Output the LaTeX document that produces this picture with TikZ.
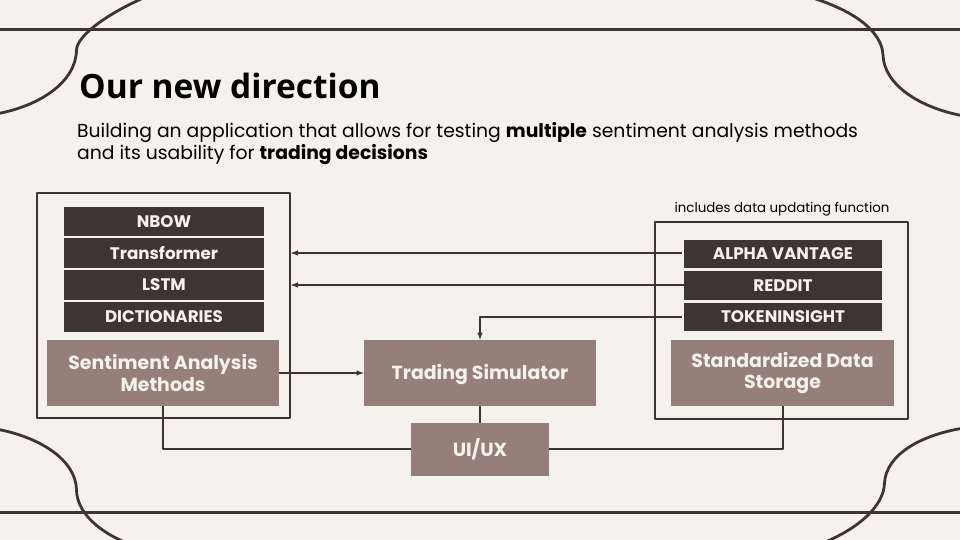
\documentclass[tikz,border=0pt]{standalone}
\usepackage{fontspec}
\setmainfont{Poppins}
\newfontfamily\titlefont{Open Sans}
\definecolor{paper}{HTML}{F5F1EC}
\definecolor{umber}{HTML}{3E3431}
\definecolor{taupe}{HTML}{957F78}
\tikzset{
  listbox/.style={fill=umber,text=paper,rectangle,inner sep=0pt,font=\fontsize{16.8}{20}\selectfont\bfseries},
  blockbox/.style={fill=taupe,text=paper,rectangle,inner sep=0pt,align=center,font=\fontsize{19}{22}\selectfont\bfseries},
  groupbox/.style={draw=umber,line width=1.5bp,rectangle,inner sep=0pt},
  wire/.style={draw=umber,line width=1.5bp},
  ornament/.style={draw=umber,line width=2.8bp,line cap=round},
}
\begin{document}
\begin{tikzpicture}[>=latex,line join=bevel,]
    %%
    \useasboundingbox (0bp,0bp) rectangle (960bp,540bp);
    \fill [paper] (0bp,0bp) rectangle (960bp,540bp);
    \begin{scope}
    \clip (0bp,0bp) rectangle (960bp,540bp);
    \draw [ornament] (-8bp,510.5bp) -- (968bp,510.5bp);
    \draw [ornament] (-8bp,27.5bp) -- (968bp,27.5bp);
    \draw [ornament] (-4bp,426bp) ..controls (40bp,434bp) and (76bp,458bp)  .. (76.5bp,490bp) ..controls (77bp,505bp) and (110bp,528bp)  .. (148bp,544bp);
    \draw [ornament] (964bp,424bp) ..controls (920bp,432bp) and (884bp,455bp)  .. (883.0bp,485bp) ..controls (882bp,508bp) and (855bp,530bp)  .. (806bp,544bp);
    \draw [ornament] (-4bp,111bp) ..controls (40bp,103bp) and (76bp,80bp)  .. (76.5bp,50bp) ..controls (77bp,28bp) and (98bp,6bp)  .. (140bp,-8bp);
    \draw [ornament] (964bp,112bp) ..controls (920bp,105bp) and (886bp,85bp)  .. (884.5bp,57bp) ..controls (884bp,36bp) and (862bp,12bp)  .. (818bp,-5bp);
    \end{scope}
    %%
    \node (title) at (79.0bp,454.0bp) [anchor=west,font=\titlefont\fontsize{33.6}{38}\selectfont\bfseries,text=black,inner sep=0pt] {Our new direction};
    \node (lead) at (77.0bp,396.5bp) [anchor=west,align=left,inner sep=0pt,text=black,font=\fontsize{18.85}{22}\selectfont] {Building an application that allows for testing \textbf{multiple} sentiment analysis methods\\and its usability for \textbf{trading decisions}};
    \node (note) at (782.0bp,331.0bp) [text=black,inner sep=0pt,font=\fontsize{13.4}{16}\selectfont] {includes data updating function};
    %%
    \node (methods) at (163.5bp,234.5bp) [groupbox,minimum width=253bp,minimum height=225bp] {};
    \node (sources) at (781.5bp,219.5bp) [groupbox,minimum width=253bp,minimum height=197bp] {};
    \node (nbow) at (164.0bp,318.5bp) [listbox,minimum width=200bp,minimum height=29bp] {NBOW};
    \node (transformer) at (164.0bp,287.0bp) [listbox,minimum width=200bp,minimum height=30bp] {Transformer};
    \node (lstm) at (164.0bp,255.0bp) [listbox,minimum width=200bp,minimum height=30bp] {LSTM};
    \node (dictionaries) at (164.0bp,223.0bp) [listbox,minimum width=200bp,minimum height=30bp] {DICTIONARIES};
    \node (alpha) at (783.0bp,286.0bp) [listbox,minimum width=198bp,minimum height=28bp] {ALPHA VANTAGE};
    \node (reddit) at (783.0bp,254.5bp) [listbox,minimum width=198bp,minimum height=29bp] {REDDIT};
    \node (token) at (783.0bp,223.0bp) [listbox,minimum width=198bp,minimum height=28bp] {TOKENINSIGHT};
    \node (sentiment) at (163.0bp,167.0bp) [blockbox,minimum width=232bp,minimum height=66bp] {Sentiment Analysis\\Methods};
    \node (simulator) at (480.0bp,167.0bp) [blockbox,minimum width=232bp,minimum height=66bp,text height=13.3bp,text depth=0bp] {Trading Simulator};
    \node (storage) at (782.5bp,167.0bp) [blockbox,minimum width=223bp,minimum height=66bp] {Standardized Data\\Storage};
    \node (uiux) at (480.0bp,90.5bp) [blockbox,minimum width=138bp,minimum height=53bp] {UI/UX};
    %%
    \draw [wire,->,shorten <=2bp] ([yshift=1bp]alpha.west) -- ([yshift=1bp]alpha.west -| methods.east);
    \draw [wire,->] ([yshift=0.5bp]reddit.west) -- ([yshift=0.5bp]reddit.west -| methods.east);
    \draw [wire,->,shorten <=2bp] (token.west) -| (simulator.north);
    \draw [wire,->] (sentiment.east) -- (simulator.west);
    \draw [wire] (simulator.south) -- (uiux.north);
    \draw [wire] (sentiment.south) |- ([yshift=0.5bp]uiux.west);
    \draw [wire] ([xshift=0.5bp]storage.south) |- ([yshift=0.5bp]uiux.east);
    %
\end{tikzpicture}
\end{document}
